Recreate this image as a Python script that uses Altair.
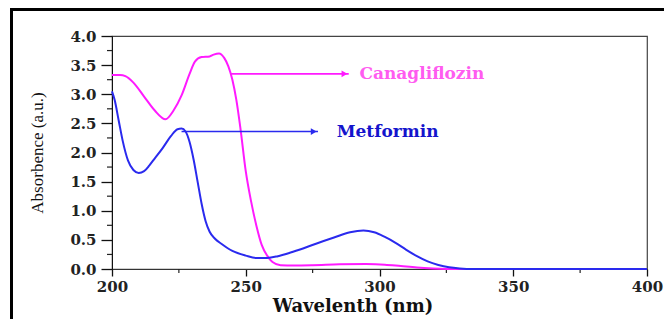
import altair as alt
import pandas as pd

# --- data ---
cana_x = [200, 203, 205, 208, 212, 216, 220, 223, 226, 229, 231, 233.5, 236.5, 238, 240, 242, 243.5, 245,
          246.5, 248, 250, 252, 254, 256, 258, 260, 263, 268, 275, 285, 295, 302, 308, 314, 320, 330, 350, 400]
cana_y = [3.33, 3.33, 3.31, 3.20, 2.96, 2.72, 2.57, 2.72, 2.98, 3.35, 3.56, 3.64, 3.65, 3.68, 3.70, 3.62, 3.48, 3.25,
          2.90, 2.42, 1.68, 1.16, 0.74, 0.41, 0.23, 0.12, 0.065, 0.06, 0.065, 0.08, 0.085, 0.075, 0.05, 0.025, 0.01, 0.0, 0.0, 0.0]

met_x = [200, 201, 202.5, 204, 206, 208, 210, 212, 214, 216, 219, 222, 224.5, 226, 227.5, 229, 230.5, 232, 233.5,
         235, 236.5, 238.5, 241, 245, 250, 254, 258, 262, 266, 270, 276, 283, 289, 294, 298, 302, 306, 310, 314,
         318, 322, 326, 330, 335, 400]
met_y = [3.05, 2.90, 2.55, 2.20, 1.86, 1.70, 1.65, 1.68, 1.78, 1.90, 2.08, 2.28, 2.40, 2.41, 2.36, 2.18, 1.88, 1.50, 1.12,
         0.82, 0.64, 0.52, 0.43, 0.31, 0.23, 0.19, 0.19, 0.22, 0.27, 0.33, 0.43, 0.54, 0.63, 0.66, 0.63, 0.55, 0.45, 0.33, 0.22,
         0.13, 0.07, 0.03, 0.01, 0.0, 0.0]

series_names = ["Canagliflozin", "Metformin"]
line_colors = ["#ff1aff", "#2a2aee"]
label_colors = ["#ff5cf0", "#1414cc"]

# annotation arrows
arrow_start = [244.5, 226.0]
arrow_end = [288.5, 277.0]
arrow_y = [3.35, 2.36]
label_x = [292.5, 284.0]

x_major = [200, 250, 300, 350, 400]
x_minor = [225, 275, 325, 375]
y_major = [0, 0.5, 1.0, 1.5, 2.0, 2.5, 3.0, 3.5, 4.0]
y_minor = [0.25, 0.75, 1.25, 1.75, 2.25, 2.75, 3.25, 3.75]

# --- tables ---
rows = []
for xv, yv in zip(cana_x, cana_y):
    rows.append({"x": xv, "y": yv, "s": series_names[0]})
for xv, yv in zip(met_x, met_y):
    rows.append({"x": xv, "y": yv, "s": series_names[1]})
curves = pd.DataFrame(rows)

ann = pd.DataFrame({
    "s": series_names,
    "x": arrow_start,
    "x2": arrow_end,
    "y": arrow_y,
    "tip": [e - 1.6 for e in arrow_end],
    "lx": label_x,
})
xminor_df = pd.DataFrame({"x": x_minor})
yminor_df = pd.DataFrame({"y": y_minor})

W, H = 535, 233

color_scale = alt.Scale(domain=series_names, range=line_colors)
label_scale = alt.Scale(domain=series_names, range=label_colors)
xscale = alt.Scale(domain=[200, 400], nice=False)
yscale = alt.Scale(domain=[0, 4], nice=False)

xaxis = alt.Axis(
    values=x_major,
    tickSize=7, tickWidth=1.3,
    labelFlush=False,
    labelPadding=3,
    labelFont="DejaVu Serif", labelFontWeight="bold", labelFontSize=15, labelColor="#222",
    domainColor="#333", tickColor="#111",
    titleFont="DejaVu Serif", titleFontWeight="bold", titleFontSize=18, titleColor="#111",
    titleX=240.5, titleY=28, titleAlign="center", titleBaseline="top",
    grid=False,
)
yaxis = alt.Axis(
    values=y_major,
    format=".1f",
    tickSize=11, tickWidth=1.3,
    labelPadding=5,
    labelFont="DejaVu Serif", labelFontWeight="bold", labelFontSize=15, labelColor="#222",
    domainColor="#111", tickColor="#111",
    titleFont="Liberation Serif", titleFontWeight="normal", titleFontSize=17, titleColor="#111",
    titleX=-74.5, titleY=H / 2, titleAngle=-90, titleAlign="center", titleBaseline="middle",
    grid=False,
)

XT = "Wavelenth (nm)"
YT = "Absorbence (a.u.)"

def xe(field):
    return alt.X(field, scale=xscale, axis=xaxis, title=XT)

def ye(field):
    return alt.Y(field, scale=yscale, axis=yaxis, title=YT)

frame = alt.Chart(pd.DataFrame({"k": [0]})).mark_rect(
    fill="transparent", stroke="black", strokeWidth=3
).encode(x=alt.value(-100.5), x2=alt.value(2000), y=alt.value(-26.5), y2=alt.value(2000))

xminor = alt.Chart(xminor_df).mark_rule(color="#222", strokeWidth=1.2).encode(
    x=xe("x:Q"), y=alt.value(H), y2=alt.value(H + 4)
)
yminor = alt.Chart(yminor_df).mark_rule(color="#222", strokeWidth=1.2).encode(
    y=ye("y:Q"), x=alt.value(-5), x2=alt.value(0)
)

lines = alt.Chart(curves).mark_line(strokeWidth=2, interpolate="monotone").encode(
    x=xe("x:Q"), y=ye("y:Q"),
    color=alt.Color("s:N", scale=color_scale, legend=None),
    detail="s:N",
)

rules = alt.Chart(ann).mark_rule(strokeWidth=1.6).encode(
    x=xe("x:Q"), x2="x2:Q", y=ye("y:Q"),
    color=alt.Color("s:N", scale=color_scale, legend=None),
)

heads = alt.Chart(ann).mark_point(shape="triangle-right", filled=True, size=45, opacity=1).encode(
    x=xe("tip:Q"), y=ye("y:Q"),
    color=alt.Color("s:N", scale=color_scale, legend=None),
)

labels = alt.Chart(ann).mark_text(
    align="left", baseline="middle", font="DejaVu Serif", fontWeight="bold", fontSize=17
).encode(
    x=xe("lx:Q"), y=ye("y:Q"),
    text="s:N",
    color=alt.Color("s:N", scale=label_scale, legend=None),
)

chart = alt.layer(frame, xminor, yminor, lines, rules, heads, labels).resolve_scale(color="independent").properties(
    width=W, height=H,
    autosize=alt.AutoSizeParams(type="none"),
    padding={"left": 104, "top": 28, "right": 17, "bottom": 50},
    background="white",
).configure_view(stroke="#444", strokeWidth=1.2)

chart.save("out.html", embed_options={"renderer": "svg", "actions": False})
